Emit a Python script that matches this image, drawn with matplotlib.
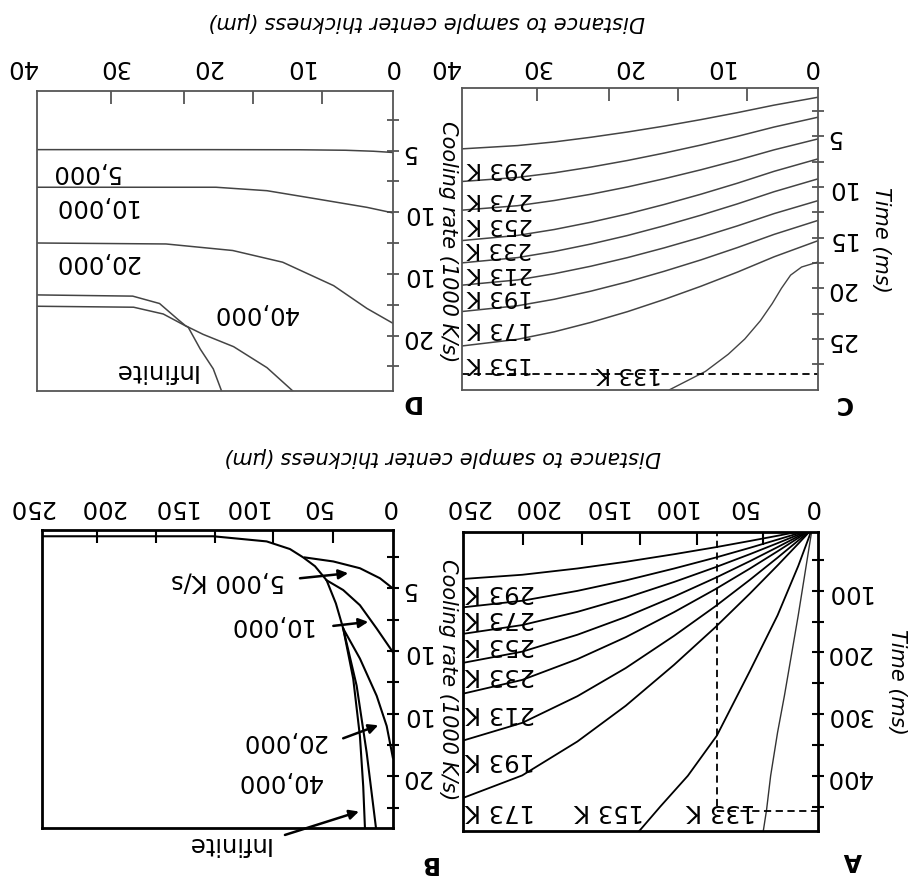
import matplotlib
matplotlib.use('Agg')
import matplotlib.pyplot as plt
from matplotlib import transforms

# ---------------- Panel A : time (ms) vs distance (um), isotherms ----------------
A_X = [0, 10, 25, 45, 70, 100, 135, 170, 210, 253]
A_T293 = [0, 4.4, 11, 19.4, 29.6, 40.9, 53.2, 64, 74.2, 81]
A_T273 = [0, 7.0, 17.2, 30.5, 46.4, 64.1, 83.4, 100.3, 116.3, 127]
A_T253 = [0, 9.3, 23, 40.8, 62, 85.9, 111.7, 134.3, 155.7, 170]
A_T233 = [0, 11.9, 29.4, 52.1, 79.2, 109.6, 142.6, 171.4, 198.8, 217]
A_T213 = [0, 14.6, 36.2, 64.1, 97.5, 134.8, 175.4, 210.9, 244.6, 267]
A_T193 = [0, 18.8, 46.5, 82.3, 125.2, 173.2, 225.4, 271, 314.2, 343]
A_T173 = [0, 23.9, 59.1, 104.6, 159.1, 220.2, 286.5, 344.4, 399.4, 436]
A_X153 = [0, 10, 25, 45, 69, 90, 110, 125, 135]
A_T153 = [0, 60, 140, 230, 335, 400, 450, 489, 510]
A_X133 = [0, 5, 10, 15, 20, 25, 30, 33, 35.3, 37]
A_T133 = [0, 70, 140, 205, 270, 330, 400, 456, 489, 515]
A_LABELS = ['293 K', '273 K', '253 K', '233 K', '213 K', '193 K', '173 K']
A_LABEL_T = [100, 143, 186, 235, 297, 373, 456]
A_153_POS = (147, 455)
A_133_POS = (66, 455)
A_DASH_X = 69
A_DASH_T = 456.5
A_XTICKS = [0, 50, 100, 150, 200, 250]
A_XMINOR = [35.3, 83.6, 124.6, 166.9, 209.2]
A_YTICKS = [100, 200, 300, 400]
A_YMINOR = [50, 150, 250, 350, 450]

# ---------------- Panel B : cooling rate vs distance (um) ----------------
B_INF_X = [243, 122.5, 85.2, 68.9, 59.6, 51.4, 43.3, 36.8, 31.7, 24.7, 20.0, 17.7, 16.5]
B_INF_U = [0.84, 0.84, 1.25, 1.86, 2.53, 3.23, 4.35, 6.2, 8.2, 12.2, 16.8, 20.8, 24.1]
B_5K_X = [58.4, 38.6, 20.0, 6.0, -3]
B_5K_U = [2.53, 2.85, 3.39, 4.19, 5.0]
B_10K_X = [43.3, 31.7, 20.0, 8.3, -3]
B_10K_U = [4.35, 5.13, 6.34, 8.2, 10.08]
B_20K_X = [31.7, 20.0, 8.3, 1.3, -3]
B_20K_U = [8.2, 10.6, 13.57, 15.98, 18.5]
B_40K_X = [31.7, 22.3, 15.3, 8.8]
B_40K_U = [8.2, 12.76, 18.1, 24.1]
B_XTICKS = [0, 50, 100, 150, 200, 250]
B_XMINOR = [38.9, 80.8, 121.3, 162.5, 203.7]
B_YTICKS = [5, 10, 15, 20]
B_YTICKLABELS = ['5', '10', '10', '20']
B_YMINOR = [2.5, 7.5, 12.5, 17.5, 22.5]

# ---------------- Panel C : time (ms) vs distance (um), zoom ----------------
C_X = [-0.8, 4, 8, 12, 16, 20, 24, 28, 32, 38.2]
C_T293 = [1.15, 1.93, 2.67, 3.36, 4.0, 4.58, 5.1, 5.56, 5.92, 6.25]
C_T273 = [3.12, 4.09, 5.01, 5.87, 6.66, 7.39, 8.04, 8.61, 9.06, 9.47]
C_T253 = [5.26, 6.34, 7.36, 8.31, 9.19, 10.0, 10.72, 11.34, 11.85, 12.3]
C_T233 = [7.23, 8.46, 9.63, 10.72, 11.73, 12.66, 13.48, 14.2, 14.78, 15.3]
C_T213 = [9.2, 10.47, 11.67, 12.79, 13.83, 14.79, 15.63, 16.37, 16.97, 17.5]
C_T193 = [11.35, 12.63, 13.84, 14.97, 16.01, 16.97, 17.82, 18.56, 19.17, 19.7]
C_T173 = [13.3, 14.68, 15.98, 17.2, 18.32, 19.36, 20.28, 21.08, 21.72, 22.3]
C_T153 = [15.3, 16.89, 18.4, 19.8, 21.1, 22.3, 23.36, 24.29, 25.03, 25.7]
C_X133 = [-0.8, 1.0, 2.2, 3.2, 4.2, 5.5, 7.2, 9.0, 11.5, 15.4]
C_T133 = [17.4, 17.9, 18.7, 20.0, 21.5, 23.2, 25.0, 26.5, 28.2, 30.0]
C_LABELS = ['293 K', '273 K', '253 K', '233 K', '213 K', '193 K', '173 K', '153 K']
C_LABEL_T = [8.1, 11.1, 13.65, 16.0, 18.45, 20.75, 23.85, 27.35]
C_133_POS = (19.8, 28.3)
C_DASH_T = 28.44
C_XTICKS = [0, 10, 20, 30, 40]
C_XMINOR = [7.0, 14.45, 22.0, 29.9]
C_YTICKS = [5, 10, 15, 20, 25]
C_YMINOR = [2.5, 7.5, 12.5, 17.5, 22.5, 27.5]

# ---------------- Panel D : cooling rate vs distance (um), zoom ----------------
D_5K_X = [38.5, 20, 10, 5, 2, -0.1]
D_5K_U = [4.92, 4.92, 4.93, 4.97, 5.05, 5.15]
D_10K_X = [38.5, 19, 13.5, 8.1, 2.7, -0.1]
D_10K_U = [7.97, 7.97, 8.25, 8.92, 9.6, 10.05]
D_20K_X = [38.5, 24.4, 17.2, 11.8, 6.3, 2.7, -0.1]
D_20K_U = [12.49, 12.57, 13.1, 14.05, 15.95, 17.8, 19.0]
D_40K_X = [38.5, 28.0, 25.1, 23.1, 22.3, 20.4, 17.1, 13.5, 10.7]
D_40K_U = [16.7, 16.8, 17.4, 18.7, 19.2, 19.9, 20.9, 22.6, 24.5]
D_INF_X = [38.5, 27.9, 24.7, 22.0, 20.7, 19.3, 18.4]
D_INF_U = [17.62, 17.7, 18.25, 19.33, 21.1, 22.7, 24.5]
D_LABELS = ['5,000', '10,000', '20,000', '40,000', 'Infinite']
D_LABEL_POS = [(33.15, 6.65), (32.1, 9.41), (31.9, 13.95), (14.8, 18.1), (25.6, 22.8)]
D_XTICKS = [0, 10, 20, 30, 40]
D_XMINOR = [7.6, 15.0, 22.5, 30.3]
D_YTICKS = [5, 10, 15, 20]
D_YTICKLABELS = ['5', '10', '10', '20']
D_YMINOR = [2.5, 7.5, 12.5, 17.5, 22.5]

FS = 17.5
fig = plt.figure(figsize=(9.16, 8.79), dpi=100)


def rect(l, t, r, b):
    return [l / 916, 1 - b / 879, (r - l) / 916, (b - t) / 879]


axA = fig.add_axes(rect(463.3, 532.7, 817.7, 831.7))
axB = fig.add_axes(rect(41.7, 530.5, 392.7, 828.8))
axC = fig.add_axes(rect(461.7, 89.3, 817.7, 390.7))
axD = fig.add_axes(rect(36.7, 91.7, 392.7, 391.7))


def setup(ax, xlim, ylim, xminor, yticks, ylabels, yminor, col, spine_lw, tick_lw):
    ax.set_xlim(*xlim)
    ax.set_ylim(*ylim)
    for s in ax.spines.values():
        s.set_color(col)
        s.set_linewidth(spine_lw)
    ax.xaxis.tick_top()
    ax.set_xticks([])
    ax.set_xticks(xminor, minor=True)
    ax.tick_params(axis='x', which='minor', direction='in', length=9, width=tick_lw,
                   color=col, top=True, bottom=False, labeltop=False, labelbottom=False)
    ax.yaxis.tick_right()
    ax.set_yticks(yticks, labels=ylabels)
    ax.set_yticks(yminor, minor=True)
    ax.tick_params(axis='y', which='both', direction='inout', length=9, width=tick_lw,
                   color=col, right=True, left=False, labelright=True, labelleft=False,
                   labelrotation=180, labelsize=FS, pad=1)
    for lab in ax.get_yticklabels():
        lab.set_va('center')


def top_labels(ax, vals, off_px):
    tr = transforms.offset_copy(
        transforms.blended_transform_factory(ax.transData, ax.transAxes),
        fig=fig, x=0, y=off_px * 0.72, units='points')
    for v in vals:
        ax.text(v, 1, str(v), transform=tr, rotation=180, ha='center', va='center',
                fontsize=FS, clip_on=False)


def ylab(ax, s, pad):
    ax.yaxis.set_label_position('right')
    ax.set_ylabel(s, rotation=270, va='bottom', fontsize=15, fontstyle='italic', labelpad=pad)


# ----- A -----
setup(axA, (252.7, -4.1), (489, 4.4), A_XMINOR, A_YTICKS, [str(v) for v in A_YTICKS],
      A_YMINOR, 'black', 2.0, 1.5)
top_labels(axA, A_XTICKS, 25.7)
for t in [A_T293, A_T273, A_T253, A_T233, A_T213, A_T193, A_T173]:
    axA.plot(A_X, t, color='black', lw=1.3)
axA.plot(A_X153, A_T153, color='black', lw=1.3)
axA.plot(A_X133, A_T133, color='#333333', lw=1.0)
axA.vlines(A_DASH_X, 0, A_DASH_T, colors='black', linestyles=(0, (4, 2.5)), lw=1.3)
axA.hlines(A_DASH_T, A_DASH_X, -4.1, colors='black', linestyles=(0, (4, 2.5)), lw=1.3)
for s, t in zip(A_LABELS, A_LABEL_T):
    axA.text(251.4, t, s, rotation=180, ha='left', va='center', fontsize=FS)
axA.text(*A_153_POS, '153 K', rotation=180, ha='center', va='center', fontsize=FS)
axA.text(*A_133_POS, '133 K', rotation=180, ha='center', va='center', fontsize=FS)
ylab(axA, 'Time (ms)', 11)

# ----- B -----
setup(axB, (242.4, -2.9), (24.1, 0.3), B_XMINOR, B_YTICKS, B_YTICKLABELS, B_YMINOR,
      'black', 2.0, 1.5)
top_labels(axB, B_XTICKS, 23.3)
axB.plot(B_INF_X, B_INF_U, color='black', lw=1.5)
axB.plot(B_5K_X, B_5K_U, color='black', lw=1.5)
axB.plot(B_10K_X, B_10K_U, color='black', lw=1.5)
axB.plot(B_20K_X, B_20K_U, color='black', lw=1.5)
axB.plot(B_40K_X, B_40K_U, color='black', lw=1.5)
B_TEXT = [('5,000 K/s', 112.2, 4.33), ('10,000', 82.9, 7.81), ('20,000', 73.1, 17.1),
          ('40,000', 76.6, 20.26), ('Infinite', 112.2, 25.3)]
for s, x, u in B_TEXT:
    axB.text(x, u, s, rotation=180, ha='center', va='center', fontsize=FS, clip_on=False)
B_ARROWS = [((28.2, 3.79), (61.9, 4.19)), ((14.2, 7.67), (38.6, 7.99)),
            ((7.2, 15.92), (31.7, 16.96)), ((20.7, 22.8), (72.4, 24.67))]
for head, tail in B_ARROWS:
    axB.annotate('', xy=head, xytext=tail, annotation_clip=False,
                 arrowprops=dict(arrowstyle='-|>', color='black', lw=1.8, shrinkA=0,
                                 shrinkB=0, mutation_scale=14))
ylab(axB, 'Cooling rate (1000 K/s)', 5)

# ----- C -----
GREY = '#444444'
setup(axC, (38.1, -0.76), (30.0, 0.27), C_XMINOR, C_YTICKS, [str(v) for v in C_YTICKS],
      C_YMINOR, '#555555', 1.3, 1.3)
top_labels(axC, C_XTICKS, 22.6)
for t in [C_T293, C_T273, C_T253, C_T233, C_T213, C_T193, C_T173, C_T153]:
    axC.plot(C_X, t, color=GREY, lw=1.1)
axC.plot(C_X133, C_T133, color=GREY, lw=1.0)
axC.hlines(C_DASH_T, 38.1, -0.76, colors='black', linestyles=(0, (4, 2.5)), lw=1.3)
for s, t in zip(C_LABELS, C_LABEL_T):
    axC.text(37.55, t, s, rotation=180, ha='left', va='center', fontsize=16.5)
axC.text(*C_133_POS, '133 K', rotation=180, ha='center', va='center', fontsize=16.5)
ylab(axC, 'Time (ms)', 11)

# ----- D -----
setup(axD, (38.37, -0.08), (24.47, 0.14), D_XMINOR, D_YTICKS, D_YTICKLABELS, D_YMINOR,
      '#555555', 1.3, 1.3)
top_labels(axD, D_XTICKS, 25)
axD.plot(D_5K_X, D_5K_U, color=GREY, lw=1.1)
axD.plot(D_10K_X, D_10K_U, color=GREY, lw=1.1)
axD.plot(D_20K_X, D_20K_U, color=GREY, lw=1.1)
axD.plot(D_40K_X, D_40K_U, color=GREY, lw=1.1)
axD.plot(D_INF_X, D_INF_U, color=GREY, lw=1.1)
for s, (x, u) in zip(D_LABELS, D_LABEL_POS):
    axD.text(x, u, s, rotation=180, ha='center', va='center', fontsize=FS)
ylab(axD, 'Cooling rate (1000 K/s)', 5)

# ----- figure texts -----
XLAB = 'Distance to sample center thickness (\u00b5m)'
fig.text(426.5 / 916, 1 - 22 / 879, XLAB, rotation=180, ha='center', va='center',
         fontsize=15, fontstyle='italic')
fig.text(443 / 916, 1 - 457 / 879, XLAB, rotation=180, ha='center', va='center',
         fontsize=15, fontstyle='italic')
for s, x, y in [('A', 853, 860), ('B', 428, 863), ('C', 843, 403), ('D', 410, 402)]:
    fig.text(x / 916, 1 - y / 879, s, rotation=180, ha='center', va='center',
             fontsize=17, fontweight='bold')

fig.savefig('out.png', dpi=100)
